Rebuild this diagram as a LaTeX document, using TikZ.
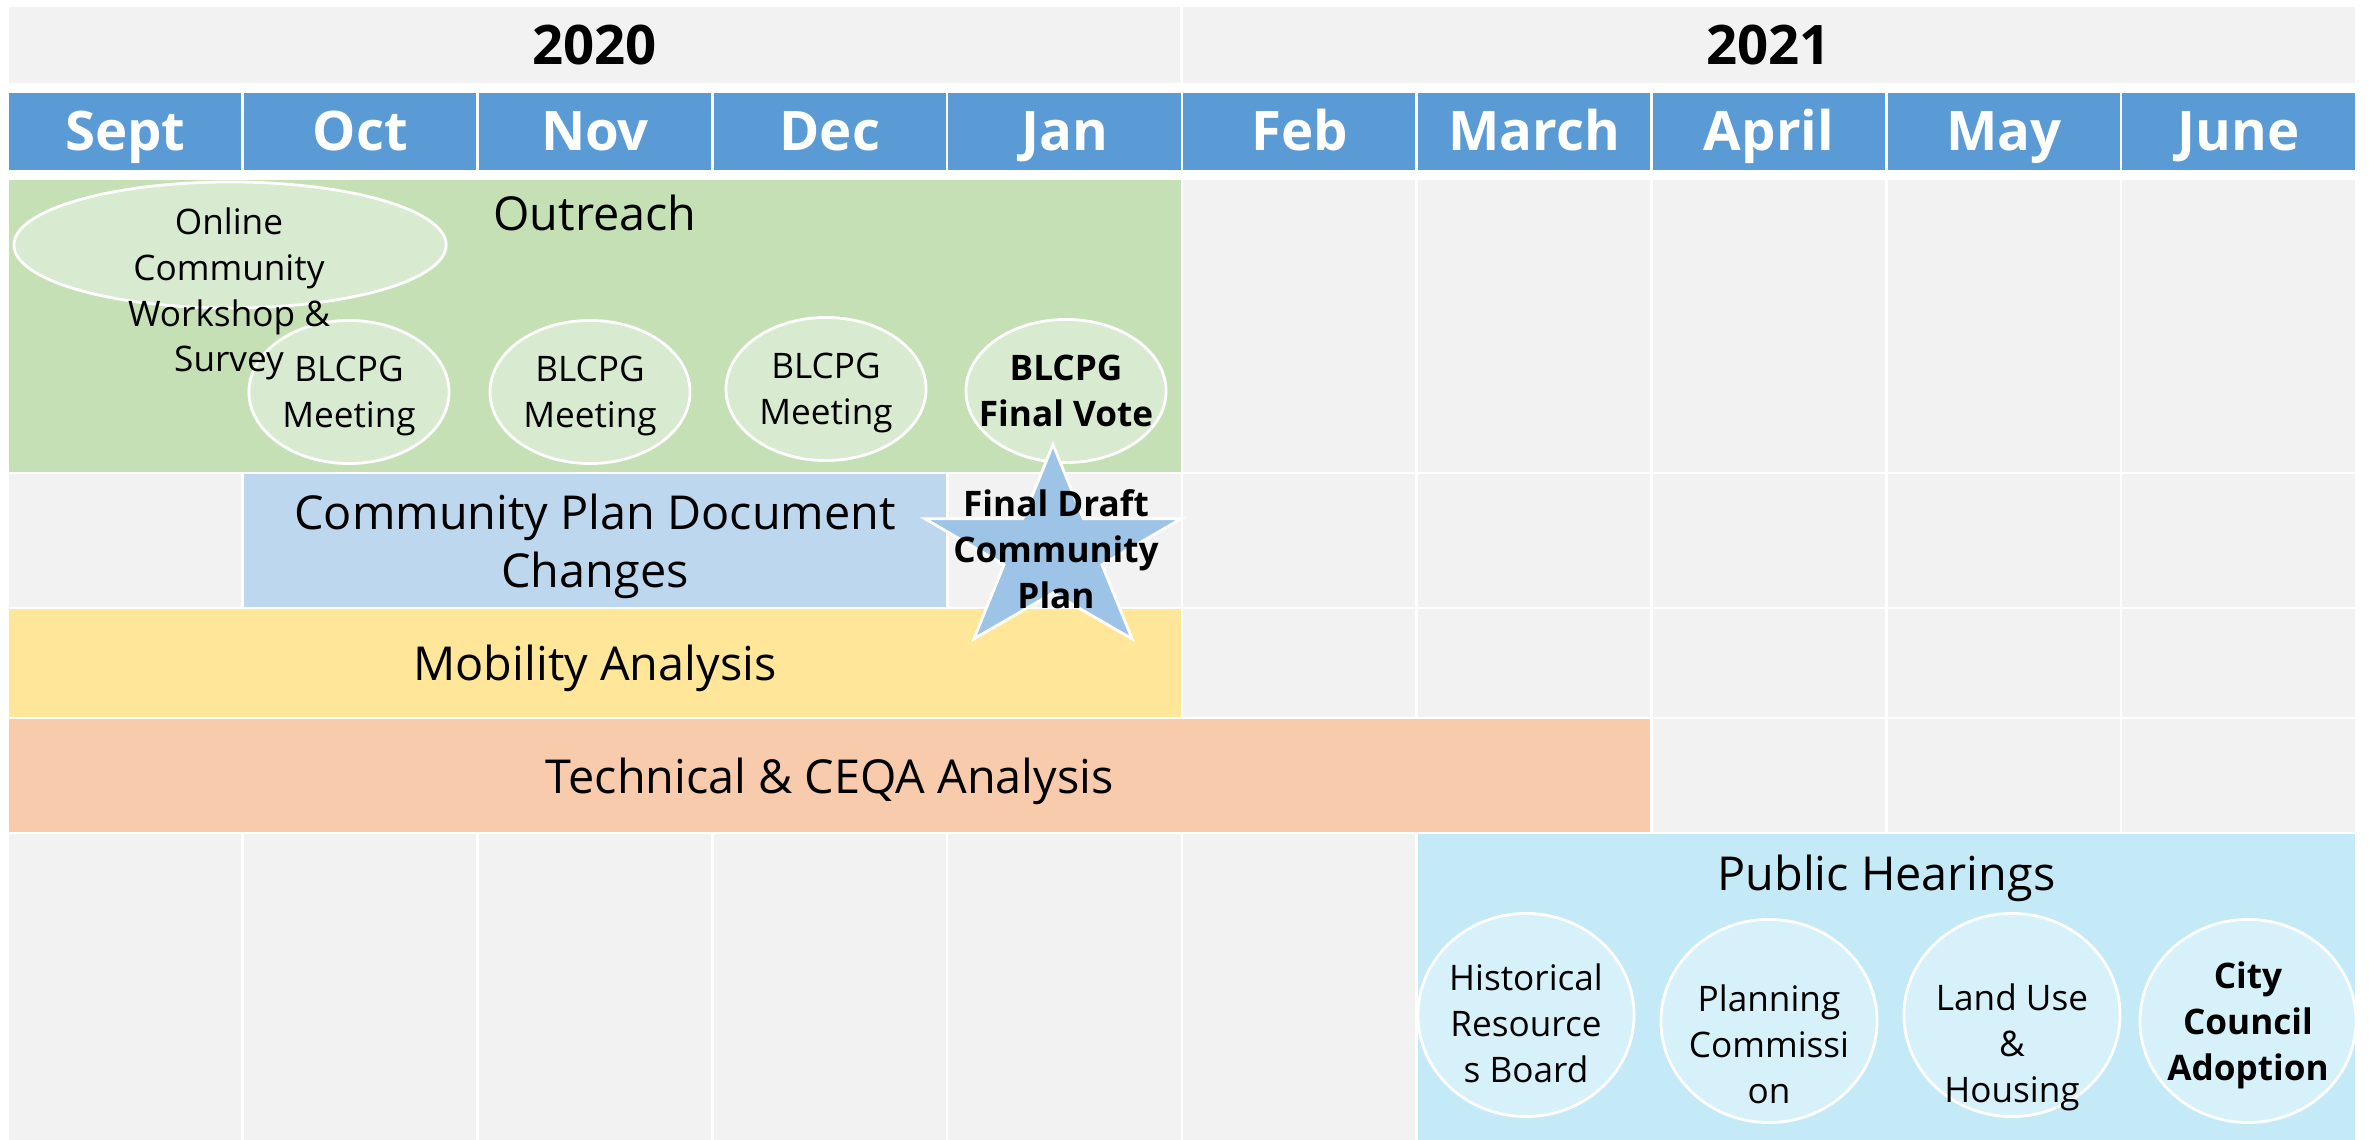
\documentclass[tikz,border=0pt]{standalone}
\usepackage{fontspec}
\setmainfont{Open Sans}
\usetikzlibrary{shapes.geometric,calc}

\definecolor{cellgray}{HTML}{F2F2F2}
\definecolor{monthblue}{HTML}{5B9BD5}
\definecolor{outgreen}{HTML}{C5E0B4}
\definecolor{bubblegreen}{HTML}{D8EAD0}
\definecolor{docblue}{HTML}{BDD7EE}
\definecolor{mobyellow}{HTML}{FFE699}
\definecolor{techsalmon}{HTML}{F8CBAD}
\definecolor{hearcyan}{HTML}{C4EAF8}
\definecolor{bubblecyan}{HTML}{D6F1FA}
\definecolor{starblue}{HTML}{9DC3E6}

\begin{document}
\begin{tikzpicture}[x=0.01cm,y=-0.01cm,font=\fontsize{10}{13}\selectfont,
	cell/.style={rectangle,draw=white,line width=0.75pt,fill=cellgray,inner sep=0pt,outer sep=0pt},
	yearcell/.style={cell,minimum width=11.735cm,minimum height=0.78cm,text height=10.9pt,text depth=0pt,
		font=\fontsize{15.5}{18}\selectfont\bfseries},
	monthcell/.style={cell,fill=monthblue,text=white,minimum width=2.348cm,minimum height=0.79cm,
		text height=10.9pt,text depth=0pt,font=\fontsize{15.5}{18}\selectfont\bfseries},
	bar/.style={draw=white,line width=0.75pt},
	bartext/.style={align=center,inner sep=0pt,text depth=0pt,font=\fontsize{13.3}{16.5}\selectfont},
	bubble/.style={ellipse,draw=white,line width=0.8pt,inner sep=0pt},
	bubbletext/.style={align=center,inner sep=0pt,text depth=0pt}]
	\path[use as bounding box,fill=white] (0,0) rectangle (2369,1140);
	
	% years and months
	\node[yearcell] (y-2020) at (594.75,45) {2020};
	\node[yearcell] (y-2021) at (1768.75,45) {2021};
	\foreach \X [count=\k] in {Sept,Oct,Nov,Dec,Jan,Feb,March,April,May,June}
	\node[monthcell] (m-\k) at ({8+234.8*(\k-0.5)},131.5) {\X};
	
	% empty grid
	\foreach \rowtop/\rowht [count=\r] in {179/294,473/135,608/110,718/115,833/320}
	{\foreach \k in {1,...,10}
		\node[cell,minimum width=2.348cm,minimum height=\rowht*0.01cm] (c-\r-\k)
		at ({8+234.8*(\k-0.5)},{\rowtop+\rowht/2}) {};}
	
	% activity bars
	\draw[bar,fill=outgreen] (c-1-1.north west) rectangle (c-1-5.south east);
	\draw[bar,fill=docblue] (c-2-2.north west) rectangle (c-2-4.south east);
	\draw[bar,fill=mobyellow] (c-3-1.north west) rectangle (c-3-5.south east);
	\draw[bar,fill=techsalmon] (c-4-1.north west) rectangle (c-4-7.south east);
	\draw[bar,fill=hearcyan] (c-5-7.north west) rectangle (c-5-10.south east);
	
	\node[bartext] (outreach) at ($(c-1-1.north west)!0.5!(c-1-5.north east)+(0,34)$) {Outreach};
	\node[bartext] (cpd) at ($(c-2-2.north west)!0.5!(c-2-4.south east)$) {Community Plan Document\\Changes};
	\node[bartext] (mobility) at ($(c-3-1.north west)!0.5!(c-3-5.south east)$) {Mobility Analysis};
	\node[bartext] (ceqa) at ($(c-4-1.north west)!0.5!(c-4-7.south east)$) {Technical \& CEQA Analysis};
	\node[bartext] (hearings) at ($(c-5-7.north west)!0.5!(c-5-10.north east)+(0,40)$) {Public Hearings};
	
	% outreach events
	\node[bubble,fill=bubblegreen,minimum width=4.32cm,minimum height=1.26cm] (ows) at (230,245) {};
	\foreach \cx/\cy/\txt [count=\k] in {349/392/{BLCPG\\Meeting},590/392/{BLCPG\\Meeting},
		826/389/{BLCPG\\Meeting},1066/391/{\textbf{BLCPG}\\\textbf{Final Vote}}}
	{\node[bubble,fill=bubblegreen,minimum width=2cm,minimum height=1.43cm] (blcpg-\k) at (\cx,\cy) {};
		\node[bubbletext] (blcpg-\k-txt) at (blcpg-\k) {\txt};}
	\node[bubbletext] (ows-txt) at (229,290) {Online\\Community\\Workshop \&\\Survey};
	
	% final draft
	\node[star,star points=5,star point ratio=2.618,fill=starblue,draw=white,line width=0.8pt,
	inner sep=0pt,minimum size=2.146cm,xscale=1.254] (fd-star) at (1053,552) {};
	\node[bubbletext] (fd-txt) at (1056,549) {\textbf{Final Draft}\\\textbf{Community}\\\textbf{Plan}};
	
	% hearings
	\foreach \cx/\cy/\dy/\txt [count=\k] in {1526/1015/8/{Historical\\Resource\\s Board},
		1769/1021/23/{Planning\\Commissi\\on},2012/1015/28/{Land Use\\\&\\Housing},
		2248/1021/0/{\textbf{City}\\\textbf{Council}\\\textbf{Adoption}}}
	{\node[bubble,fill=bubblecyan,minimum width=2.16cm,minimum height=2.03cm] (ph-\k) at (\cx,\cy) {};
		\node[bubbletext] (ph-\k-txt) at (\cx,{\cy+\dy}) {\txt};}
\end{tikzpicture}
\end{document}
